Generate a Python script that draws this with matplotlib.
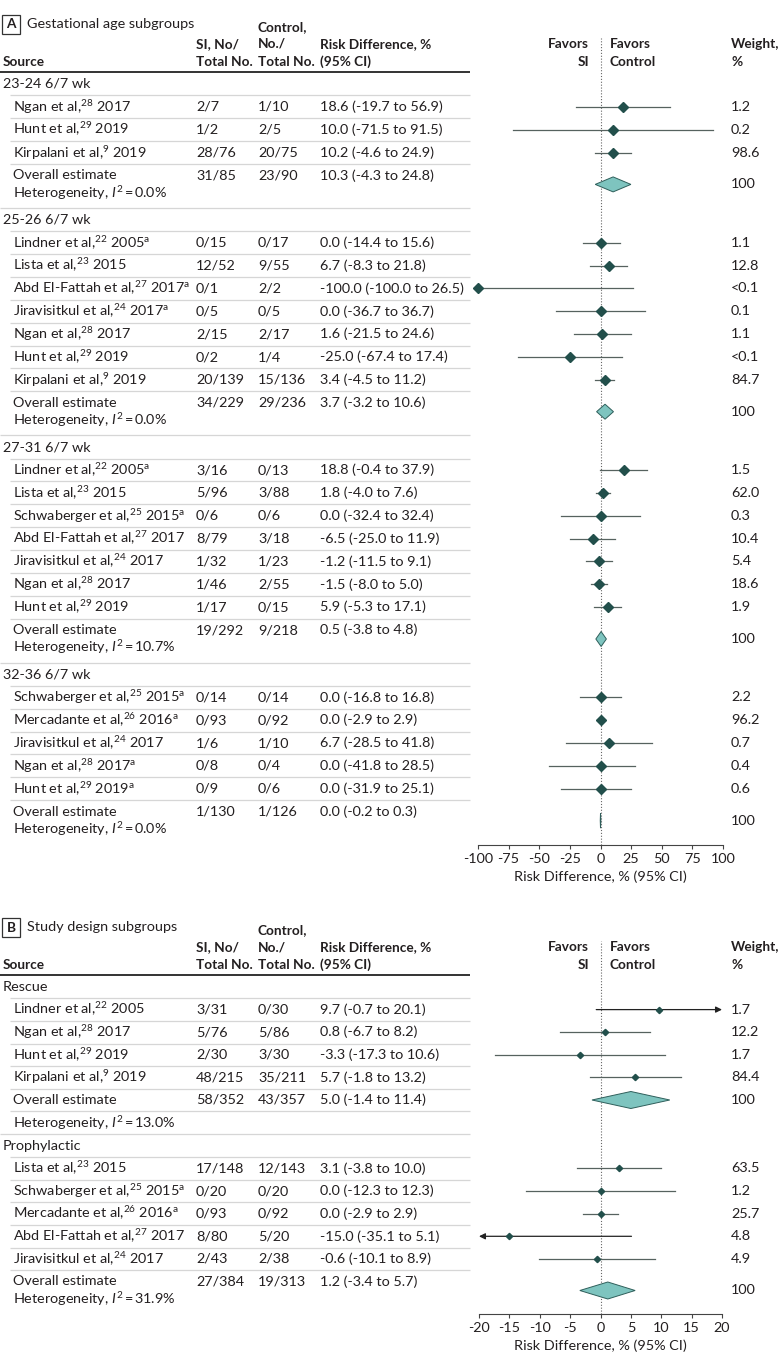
import matplotlib
matplotlib.use("Agg")
import matplotlib.pyplot as plt
from matplotlib.patches import Polygon, Rectangle

FONT = "Lato"
plt.rcParams['font.family'] = [FONT, 'DejaVu Sans']
plt.rcParams['mathtext.fontset'] = 'custom'
plt.rcParams['mathtext.rm'] = FONT
plt.rcParams['mathtext.it'] = FONT + ':italic'
plt.rcParams['mathtext.bf'] = FONT + ':bold'
plt.rcParams['axes.unicode_minus'] = False

# ---------------- Panel A: gestational age subgroups ----------------
a_groups = ["23-24 6/7 wk", "25-26 6/7 wk", "27-31 6/7 wk", "32-36 6/7 wk"]
a_group_of = [0, 0, 0,
              1, 1, 1, 1, 1, 1, 1,
              2, 2, 2, 2, 2, 2, 2,
              3, 3, 3, 3, 3]
a_source = ["Ngan et al,$^{28}$ 2017", "Hunt et al,$^{29}$ 2019", "Kirpalani et al,$^{9}$ 2019",
            "Lindner et al,$^{22}$ 2005$^{\\mathrm{a}}$", "Lista et al,$^{23}$ 2015",
            "Abd El-Fattah et al,$^{27}$ 2017$^{\\mathrm{a}}$", "Jiravisitkul et al,$^{24}$ 2017$^{\\mathrm{a}}$",
            "Ngan et al,$^{28}$ 2017", "Hunt et al,$^{29}$ 2019", "Kirpalani et al,$^{9}$ 2019",
            "Lindner et al,$^{22}$ 2005$^{\\mathrm{a}}$", "Lista et al,$^{23}$ 2015",
            "Schwaberger et al,$^{25}$ 2015$^{\\mathrm{a}}$", "Abd El-Fattah et al,$^{27}$ 2017",
            "Jiravisitkul et al,$^{24}$ 2017", "Ngan et al,$^{28}$ 2017", "Hunt et al,$^{29}$ 2019",
            "Schwaberger et al,$^{25}$ 2015$^{\\mathrm{a}}$", "Mercadante et al,$^{26}$ 2016$^{\\mathrm{a}}$",
            "Jiravisitkul et al,$^{24}$ 2017", "Ngan et al,$^{28}$ 2017$^{\\mathrm{a}}$",
            "Hunt et al,$^{29}$ 2019$^{\\mathrm{a}}$"]
a_si = ["2/7", "1/2", "28/76",
        "0/15", "12/52", "0/1", "0/5", "2/15", "0/2", "20/139",
        "3/16", "5/96", "0/6", "8/79", "1/32", "1/46", "1/17",
        "0/14", "0/93", "1/6", "0/8", "0/9"]
a_ctrl = ["1/10", "2/5", "20/75",
          "0/17", "9/55", "2/2", "0/5", "2/17", "1/4", "15/136",
          "0/13", "3/88", "0/6", "3/18", "1/23", "2/55", "0/15",
          "0/14", "0/92", "1/10", "0/4", "0/6"]
a_rd = [18.6, 10.0, 10.2,
        0.0, 6.7, -100.0, 0.0, 1.6, -25.0, 3.4,
        18.8, 1.8, 0.0, -6.5, -1.2, -1.5, 5.9,
        0.0, 0.0, 6.7, 0.0, 0.0]
a_lo = [-19.7, -71.5, -4.6,
        -14.4, -8.3, -100.0, -36.7, -21.5, -67.4, -4.5,
        -0.4, -4.0, -32.4, -25.0, -11.5, -8.0, -5.3,
        -16.8, -2.9, -28.5, -41.8, -31.9]
a_hi = [56.9, 91.5, 24.9,
        15.6, 21.8, 26.5, 36.7, 24.6, 17.4, 11.2,
        37.9, 7.6, 32.4, 11.9, 9.1, 5.0, 17.1,
        16.8, 2.9, 41.8, 28.5, 25.1]
a_weight = ["1.2", "0.2", "98.6",
            "1.1", "12.8", "<0.1", "0.1", "1.1", "<0.1", "84.7",
            "1.5", "62.0", "0.3", "10.4", "5.4", "18.6", "1.9",
            "2.2", "96.2", "0.7", "0.4", "0.6"]
a_pool_si = ["31/85", "34/229", "19/292", "1/130"]
a_pool_ctrl = ["23/90", "29/236", "9/218", "1/126"]
a_pool_rd = [10.3, 3.7, 0.5, 0.0]
a_pool_lo = [-4.3, -3.2, -3.8, -0.2]
a_pool_hi = [24.8, 10.6, 4.8, 0.3]
a_i2 = [0.0, 0.0, 10.7, 0.0]
a_ticks = [-100, -75, -50, -25, 0, 25, 50, 75, 100]

# ---------------- Panel B: study design subgroups ----------------
b_groups = ["Rescue", "Prophylactic"]
b_group_of = [0, 0, 0, 0, 1, 1, 1, 1, 1]
b_source = ["Lindner et al,$^{22}$ 2005", "Ngan et al,$^{28}$ 2017", "Hunt et al,$^{29}$ 2019",
            "Kirpalani et al,$^{9}$ 2019", "Lista et al,$^{23}$ 2015",
            "Schwaberger et al,$^{25}$ 2015$^{\\mathrm{a}}$", "Mercadante et al,$^{26}$ 2016$^{\\mathrm{a}}$",
            "Abd El-Fattah et al,$^{27}$ 2017", "Jiravisitkul et al,$^{24}$ 2017"]
b_si = ["3/31", "5/76", "2/30", "48/215", "17/148", "0/20", "0/93", "8/80", "2/43"]
b_ctrl = ["0/30", "5/86", "3/30", "35/211", "12/143", "0/20", "0/92", "5/20", "2/38"]
b_rd = [9.7, 0.8, -3.3, 5.7, 3.1, 0.0, 0.0, -15.0, -0.6]
b_lo = [-0.7, -6.7, -17.3, -1.8, -3.8, -12.3, -2.9, -35.1, -10.1]
b_hi = [20.1, 8.2, 10.6, 13.2, 10.0, 12.3, 2.9, 5.1, 8.9]
b_weight = ["1.7", "12.2", "1.7", "84.4", "63.5", "1.2", "25.7", "4.8", "4.9"]
b_pool_si = ["58/352", "27/384"]
b_pool_ctrl = ["43/357", "19/313"]
b_pool_rd = [5.0, 1.2]
b_pool_lo = [-1.4, -3.4]
b_pool_hi = [11.4, 5.7]
b_i2 = [13.0, 31.9]
b_ticks = [-20, -15, -10, -5, 0, 5, 10, 15, 20]

# ---------------- styling ----------------
W, H = 780, 1367
TXT = "#231f20"
SEP = "#d6d6d6"
MARK = "#224f4b"
CI = "#56625f"
POOL = "#7ec4bf"
POOL_EDGE = "#2f5f5b"

fig = plt.figure(figsize=(W / 100, H / 100), dpi=100)

# size the text so "Overall estimate" is about as wide as in the reference (~100 px)
_r = fig.canvas.get_renderer()
_probe = fig.text(0, 0, "Overall estimate", fontsize=10)
FS = 10 * 103 / _probe.get_window_extent(_r).width
_probe.remove()
FSB = FS * 0.95  # bold column headers

tab = fig.add_axes([0, 0, 1, 1])
tab.set_xlim(0, W)
tab.set_ylim(H, 0)
tab.axis("off")


def put(x, y, s, size=None, **kw):
    kw.setdefault("ha", "left")
    tab.text(x, y, s, va="center", fontsize=size or FS, color=TXT, **kw)


def bold(x, y, s, **kw):
    put(x, y, s, size=FSB, fontweight="bold", **kw)


def hline(y, x0=10, x1=470, color=SEP, lw=0.9):
    tab.plot([x0, x1], [y, y], color=color, lw=lw, solid_capstyle="butt")


def forest_axes(x0, x1, y0, y1, lim, ticks):
    ax = fig.add_axes([x0 / W, 1 - y1 / H, (x1 - x0) / W, (y1 - y0) / H])
    ax.set_facecolor("none")
    ax.set_xlim(-lim, lim)
    ax.set_ylim(y1, y0)
    for s in ["top", "left", "right"]:
        ax.spines[s].set_visible(False)
    ax.spines["bottom"].set_color("#444444")
    ax.spines["bottom"].set_linewidth(0.8)
    ax.set_yticks([])
    ax.set_xticks(ticks)
    ax.tick_params(axis="x", length=3, width=0.8, color="#444444", labelsize=FS,
                   labelcolor=TXT, pad=2.5)
    ax.set_xlabel("Risk Difference, % (95% CI)", fontsize=FS, color=TXT, labelpad=4)
    ax.axvline(0, color="#666666", lw=0.8, ls=(0, (1, 1.6)), zorder=1)
    return ax


def draw_header(letter, title, hy):
    tab.add_patch(Rectangle((2, hy - 47), 18, 19, fill=False, ec="#333333", lw=0.9))
    bold(11, hy - 37.5, letter, ha="center")
    put(27, hy - 38, title)
    bold(3, hy, "Source")
    bold(196, hy - 18, "SI, No/")
    bold(196, hy, "Total No.")
    bold(258, hy - 35, "Control,")
    bold(258, hy - 18, "No./")
    bold(258, hy, "Total No.")
    bold(320, hy - 18, "Risk Difference, %")
    bold(320, hy, "(95% CI)")
    bold(589, hy - 18, "Favors", ha="right")
    bold(589, hy, "SI", ha="right")
    bold(610, hy - 18, "Favors")
    bold(610, hy, "Control")
    bold(731, hy - 18, "Weight,")
    bold(731, hy, "%")
    hline(hy + 10, 0, 470, color="#333333", lw=1.4)


def rd_text(r, l, h):
    return f"{r:.1f} ({l:.1f} to {h:.1f})"


def arrow(ax, start, end, y):
    ax.annotate("", xy=(end, y), xytext=(start, y), annotation_clip=False,
                arrowprops=dict(arrowstyle="-|>", color="#222222", lw=0.9,
                                shrinkA=0, shrinkB=0, mutation_scale=9))


def draw_panel(ax, hy, pitch, ms, half_h, groups, group_of, source, si, ctrl, rd, lo, hi, wt,
               p_si, p_ctrl, p_rd, p_lo, p_hi, i2, het_own_row):
    xmin, xmax = ax.get_xlim()
    y = hy + 22
    for g, label in enumerate(groups):
        put(3, y, label)
        for i in [k for k, gg in enumerate(group_of) if gg == g]:
            hline(y + pitch / 2)
            y += pitch
            put(13, y, source[i])
            put(196, y, si[i])
            put(258, y, ctrl[i])
            put(320, y, rd_text(rd[i], lo[i], hi[i]))
            put(731, y, wt[i])
            if hi[i] > xmax:
                arrow(ax, lo[i], xmax, y)
            elif lo[i] < xmin:
                arrow(ax, hi[i], xmin, y)
            else:
                ax.plot([lo[i], hi[i]], [y, y], color=CI, lw=0.9, zorder=2)
            ax.plot(rd[i], y, marker="D", ms=ms, color=MARK, mec=MARK, clip_on=False, zorder=3)
        hline(y + pitch / 2)
        y += pitch
        put(13, y, "Overall estimate")
        put(196, y, p_si[g])
        put(258, y, p_ctrl[g])
        put(320, y, rd_text(p_rd[g], p_lo[g], p_hi[g]))
        het = f"Heterogeneity, $I^2$\u2009=\u2009{i2[g]:.1f}%"
        if het_own_row[g]:
            yd = y
            hline(y + pitch / 2)
            y += pitch
            gap = pitch / 2
        else:
            yd = y + 9
            y += 17.5
            gap = 15
        put(13, y, het)
        put(731, yd, "100")
        ax.add_patch(Polygon([(p_lo[g], yd), (p_rd[g], yd - half_h), (p_hi[g], yd),
                              (p_rd[g], yd + half_h)], closed=True, fc=POOL, ec=POOL_EDGE,
                             lw=0.7, zorder=3))
        if g < len(groups) - 1:
            hline(y + gap, 0, 470)
            y += gap + 12


# Panel A
draw_header("A", "Gestational age subgroups", 62)
ax_a = forest_axes(478, 723, 38, 845, 100, a_ticks)
draw_panel(ax_a, 62, 22.85, 5.2, 7.5, a_groups, a_group_of, a_source, a_si, a_ctrl,
           a_rd, a_lo, a_hi, a_weight, a_pool_si, a_pool_ctrl, a_pool_rd, a_pool_lo,
           a_pool_hi, a_i2, [False, False, False, False])

# Panel B
draw_header("B", "Study design subgroups", 965)
ax_b = forest_axes(479, 722, 941, 1314, 20, b_ticks)
draw_panel(ax_b, 965, 22.6, 3.2, 8.5, b_groups, b_group_of, b_source, b_si, b_ctrl,
           b_rd, b_lo, b_hi, b_weight, b_pool_si, b_pool_ctrl, b_pool_rd, b_pool_lo,
           b_pool_hi, b_i2, [True, False])

fig.savefig("out.png", dpi=100)
